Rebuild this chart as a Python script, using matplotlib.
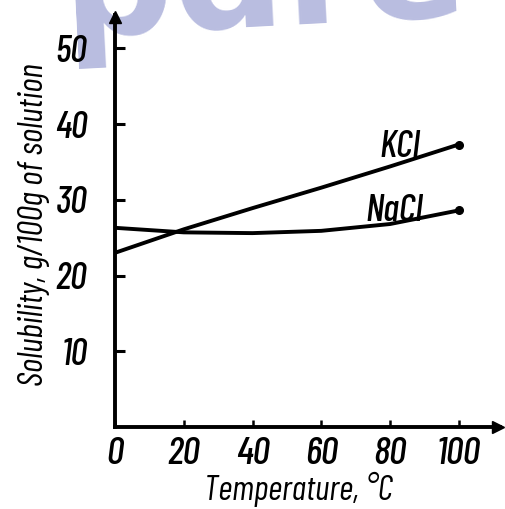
import matplotlib.pyplot as plt

# 데이터
temps = [0, 20, 40, 60, 80, 100]
kcl = [23.0, 26.1, 28.9, 31.6, 34.4, 37.3]
nacl = [26.3, 25.7, 25.6, 25.9, 26.8, 28.6]
x_ticks = [0, 20, 40, 60, 80, 100]
y_ticks = [10, 20, 30, 40, 50]

plt.rcParams['font.family'] = ['Barlow Condensed', 'DejaVu Sans']
plt.rcParams['font.style'] = 'italic'
plt.rcParams['font.weight'] = 'medium'

fig = plt.figure(figsize=(5.06, 5.09), dpi=100)
fig.patch.set_facecolor('white')

# 워터마크
fig.text(58 / 506, 1 - 36 / 509, 'pdre', fontsize=112, fontweight='bold', color='#b9bde0',
         family='DejaVu Sans', style='normal', rotation=3, ha='left', va='baseline', zorder=-5)

ax = fig.add_axes([115 / 506, (509 - 427) / 509, 385 / 506, 412 / 509])
ax.set_facecolor('none')
ax.set_xlim(0, 112)
ax.set_ylim(0, 54.4)

for s in ['top', 'right']:
    ax.spines[s].set_visible(False)
for s in ['left', 'bottom']:
    ax.spines[s].set_linewidth(2.8)
    ax.spines[s].set_color('black')

# 축 화살표
ax.plot([111.5], [0], marker='>', color='black', markersize=9, clip_on=False)
ax.plot([0], [54.2], marker='^', color='black', markersize=9, clip_on=False)

# 곡선
ax.plot(temps, kcl, color='black', lw=2.8, solid_capstyle='round')
ax.plot(temps, nacl, color='black', lw=2.8, solid_capstyle='round')
ax.plot(temps[-1], kcl[-1], 'o', color='black', ms=5.5)
ax.plot(temps[-1], nacl[-1], 'o', color='black', ms=5.5)

ax.text(77, 35.6, 'KCl', fontsize=27, ha='left', va='baseline')
ax.text(73, 27.2, 'NaCl', fontsize=27, ha='left', va='baseline')

# 눈금
ax.set_xticks(x_ticks)
ax.set_xticklabels([str(t) for t in x_ticks])
ax.set_yticks(y_ticks)
ax.set_yticklabels([str(t) for t in y_ticks])
ax.tick_params(axis='x', direction='in', length=5, width=1.8, pad=7, labelsize=28)
ax.tick_params(axis='y', direction='in', length=7, width=2.2, pad=20, labelsize=27)

ax.set_xlabel('Temperature, °C', fontsize=25)
ax.xaxis.set_label_coords(0.475, -0.11)
ax.set_ylabel('Solubility, g/100g of solution', fontsize=25)
ax.yaxis.set_label_coords(-0.17, 0.49)

fig.savefig('out.png', dpi=100)
